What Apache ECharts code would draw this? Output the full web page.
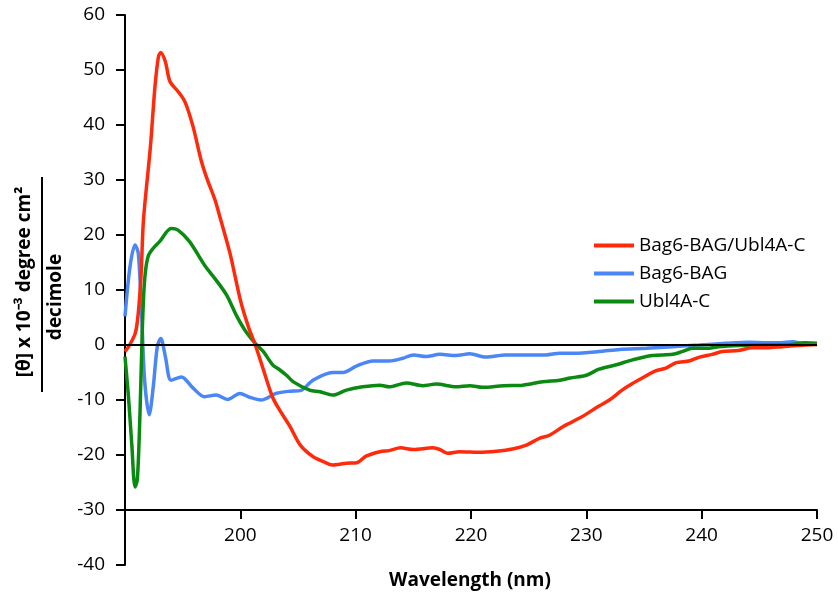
<!DOCTYPE html>
<html>
<head>
<meta charset="utf-8">
<script src="https://cdn.jsdelivr.net/npm/echarts@6/dist/echarts.min.js"></script>
<style>html,body{margin:0;padding:0;background:#fff}#c{width:838px;height:601px}</style>
</head>
<body>
<div id="c"></div>
<script>
var seriesNames = ['Bag6-BAG/Ubl4A-C', 'Bag6-BAG', 'Ubl4A-C'];
var xTicks = [190, 200, 210, 220, 230, 240, 250];
var yTicks = [-40, -30, -20, -10, 0, 10, 20, 30, 40, 50, 60];
var xAxisCrossValue = -30;

var complexWl = [190,190.4,190.9,191.15,191.4,191.6,192.2,192.6,192.9,193.1,193.5,193.9,194.6,195.2,195.9,196.6,197.1,197.8,198.2,199.1,200.0,200.7,201.3,202.0,202.8,203.4,204.3,205.2,206.3,207.2,208.0,209.2,210.1,210.9,212.1,212.9,213.9,215.0,216.7,217.3,218.0,219.0,220.7,222.2,223.6,224.8,225.9,226.8,228.0,229.5,231.1,232.0,233.1,234.0,235.2,236.0,236.9,237.8,238.9,239.8,240.9,241.8,243.2,244.4,245.6,247.0,248.4,250];
var complexVal = [-1.2,0,2.2,5.8,13,22.7,36,47,52.4,53.2,51.5,47.9,46.1,44.2,39.7,33.6,30.3,26.4,23.5,16.7,8.2,3.3,0,-4.5,-9.5,-11.8,-14.8,-18.2,-20.3,-21.2,-21.8,-21.5,-21.4,-20.2,-19.4,-19.2,-18.7,-19.0,-18.7,-19.0,-19.7,-19.4,-19.5,-19.3,-18.9,-18.2,-17.0,-16.4,-14.8,-13.2,-11.1,-10.0,-8.2,-7.0,-5.6,-4.7,-4.2,-3.2,-2.9,-2.2,-1.7,-1.2,-1.0,-0.5,-0.5,-0.3,-0.1,0.1];

var bagWl = [190,190.43,190.87,191.15,191.44,191.7,192.1,192.45,192.8,193.1,193.5,194.0,194.9,195.8,196.9,197.9,198.9,199.96,200.8,201.8,203.1,204.3,205.2,206.3,208.0,208.9,210.1,211.5,212.9,214.1,215.0,216.1,217.3,218.7,219.9,221.3,223.0,225.1,226.5,227.7,229.0,231.1,232.9,235.2,237.5,239.8,242.1,244.1,245.6,246.7,247.9,248.7,250];
var bagVal = [5.2,14.2,18.2,16.7,5.8,-6.4,-12.7,-7.6,-0.3,1.2,-2.1,-6.4,-5.8,-7.6,-9.4,-9.1,-9.9,-8.8,-9.5,-10.0,-8.8,-8.4,-8.3,-6.4,-5.0,-5.0,-3.8,-2.9,-2.9,-2.4,-1.8,-2.1,-1.7,-1.9,-1.6,-2.2,-1.8,-1.8,-1.8,-1.5,-1.5,-1.2,-0.8,-0.6,-0.3,0,0.3,0.5,0.4,0.4,0.6,0.3,0.1];

var ublWl = [190,190.3,190.6,190.87,191.07,191.3,191.5,191.7,192.0,192.45,193.0,194.0,194.6,195.6,196.9,197.9,198.8,199.7,200.4,201.3,202.0,202.8,203.4,204.0,204.6,206.0,206.9,208.0,209.2,210.6,212.1,212.9,214.4,215.8,217.0,218.7,219.9,221.0,222.8,224.5,226.2,227.7,228.6,230.0,231.1,232.6,234.0,235.7,237.5,238.3,239.2,240.4,241.5,243.2,245.6,247.3,249.0,250];
var ublVal = [-2.1,-9.4,-18.5,-25.8,-24.5,-12.4,2.7,11.8,16.1,17.6,18.8,21.2,20.9,18.8,14.5,11.8,9.1,5.2,2.7,0.3,-1.2,-3.6,-4.5,-5.5,-6.7,-8.2,-8.5,-9.1,-8.2,-7.6,-7.3,-7.6,-6.9,-7.4,-7.1,-7.6,-7.4,-7.7,-7.4,-7.3,-6.7,-6.4,-6.0,-5.5,-4.4,-3.6,-2.7,-1.9,-1.7,-1.2,-0.6,-0.6,-0.3,-0.1,0,0,0.4,0.3];

function pairs(xs, ys) { return xs.map(function (x, i) { return [x, ys[i]]; }); }

var FONT = '"Open Sans"';
var FS = 19;
var colors = ['#ff2a0c', '#4a86f5', '#0b8a12'];

// plot geometry
var gLeft = 125, gTop = 15, gWidth = 692, gHeight = 550;
var yMin = yTicks[0], yMax = yTicks[yTicks.length - 1];
// second (axis-only) grid ends where the value xAxisCrossValue sits
var crossHeight = gHeight * (yMax - xAxisCrossValue) / (yMax - yMin);

var chart = echarts.init(document.getElementById('c'), null, { renderer: 'canvas' });

chart.setOption({
  animation: false,
  backgroundColor: '#ffffff',
  color: colors,
  textStyle: { fontFamily: FONT, color: '#000' },
  grid: [
    { left: gLeft, top: gTop, width: gWidth, height: gHeight, containLabel: false },
    { left: gLeft, top: gTop, width: gWidth, height: crossHeight, containLabel: false }
  ],
  legend: {
    orient: 'vertical',
    left: 589,
    top: 231,
    itemWidth: 40,
    itemHeight: 4,
    itemGap: 9,
    icon: 'rect',
    textStyle: { fontFamily: FONT, fontSize: FS, color: '#000' },
    data: seriesNames
  },
  xAxis: [
    {
      type: 'value', gridIndex: 0,
      min: xTicks[0], max: xTicks[xTicks.length - 1], interval: 10,
      show: false
    },
    {
      type: 'value', gridIndex: 1,
      min: xTicks[0], max: xTicks[xTicks.length - 1], interval: 10,
      axisLine: { show: true, onZero: false, lineStyle: { color: '#000', width: 2 } },
      axisTick: { show: true, length: 9, lineStyle: { color: '#000', width: 2 } },
      axisLabel: {
        margin: 16, fontSize: FS, color: '#000', fontFamily: FONT,
        formatter: function (v) { return v === xTicks[0] ? '' : String(v); }
      },
      splitLine: { show: false }
    }
  ],
  yAxis: [
    {
      type: 'value', gridIndex: 0,
      min: yMin, max: yMax, interval: 10,
      axisLine: { show: true, onZero: false, lineStyle: { color: '#000', width: 2 } },
      axisTick: { show: true, length: 9, lineStyle: { color: '#000', width: 2 } },
      axisLabel: { margin: 20, fontSize: FS, color: '#000', fontFamily: FONT },
      splitLine: { show: false }
    },
    {
      type: 'value', gridIndex: 1,
      min: xAxisCrossValue, max: yMax,
      show: false
    }
  ],
  series: [
    {
      name: seriesNames[0], type: 'line', xAxisIndex: 0, yAxisIndex: 0,
      smooth: 0.3, showSymbol: false, symbol: 'none',
      lineStyle: { width: 3.5, color: colors[0] }, z: 3,
      data: pairs(complexWl, complexVal),
      markLine: {
        silent: true, symbol: ['none', 'none'], animation: false,
        label: { show: false },
        lineStyle: { color: '#000', width: 2, type: 'solid' },
        data: [{ yAxis: 0 }]
      }
    },
    {
      name: seriesNames[1], type: 'line', xAxisIndex: 0, yAxisIndex: 0,
      smooth: 0.3, showSymbol: false, symbol: 'none',
      lineStyle: { width: 3.5, color: colors[1] }, z: 2,
      data: pairs(bagWl, bagVal)
    },
    {
      name: seriesNames[2], type: 'line', xAxisIndex: 0, yAxisIndex: 0,
      smooth: 0.3, showSymbol: false, symbol: 'none',
      lineStyle: { width: 3.5, color: colors[2] }, z: 2,
      data: pairs(ublWl, ublVal)
    }
  ],
  graphic: [
    {
      type: 'text', x: 25, y: 282, rotation: Math.PI / 2,
      style: { text: '[θ] x 10⁻³ degree cm²', font: 'bold ' + FS + 'px ' + FONT, fill: '#000', textAlign: 'center', textVerticalAlign: 'middle' }
    },
    {
      type: 'line', shape: { x1: 42, y1: 177, x2: 42, y2: 392 },
      style: { stroke: '#000', lineWidth: 2 }
    },
    {
      type: 'text', x: 56, y: 297, rotation: Math.PI / 2,
      style: { text: 'decimole', font: 'bold ' + FS + 'px ' + FONT, fill: '#000', textAlign: 'center', textVerticalAlign: 'middle' }
    },
    {
      type: 'text', x: 470, y: 581,
      style: { text: 'Wavelength (nm)', font: 'bold ' + FS + 'px ' + FONT, fill: '#000', textAlign: 'center', textVerticalAlign: 'middle' }
    }
  ]
});
</script>
</body>
</html>
